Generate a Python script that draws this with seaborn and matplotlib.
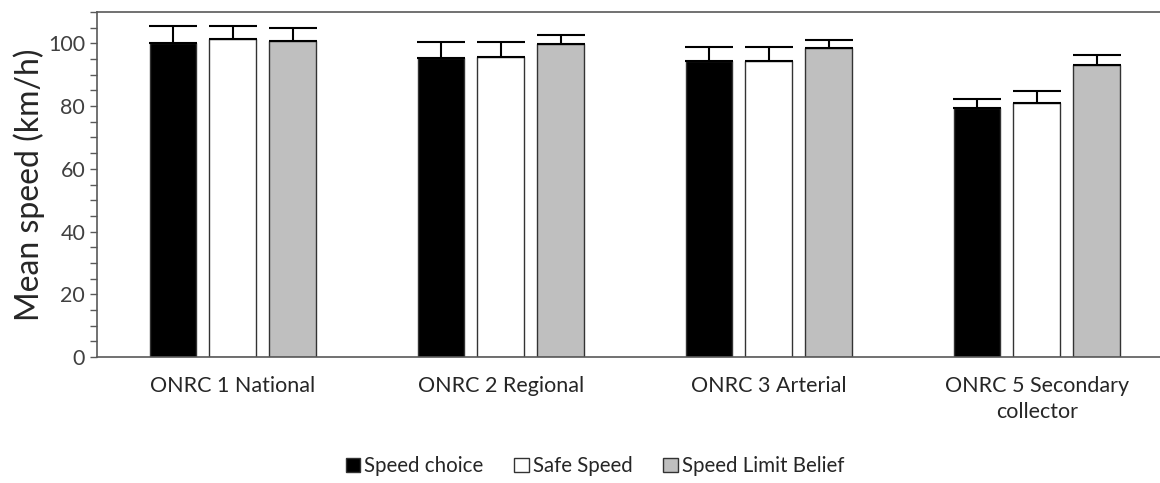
import matplotlib
matplotlib.use("Agg")
import matplotlib.pyplot as plt
import matplotlib.patches as mpatches
import seaborn as sns
import pandas as pd
import numpy as np
from matplotlib.ticker import MultipleLocator

categories = ["ONRC 1 National", "ONRC 2 Regional", "ONRC 3 Arterial", "ONRC 5 Secondary\ncollector"]
series = ["Speed choice", "Safe Speed", "Speed Limit Belief"]
speed_choice = [100.0, 95.3, 94.5, 79.4]
safe_speed = [101.3, 95.6, 94.5, 80.9]
limit_belief = [100.8, 99.7, 98.4, 93.1]
err_choice = [5.5, 5.3, 4.4, 3.0]
err_safe = [4.2, 5.0, 4.4, 4.0]
err_belief = [4.1, 2.9, 2.8, 3.3]

values = [speed_choice, safe_speed, limit_belief]
errors = [err_choice, err_safe, err_belief]
colors = ["#000000", "#ffffff", "#bfbfbf"]

rows = []
for s, vals in zip(series, values):
    for c, v in zip(categories, vals):
        rows.append({"cat": c, "series": s, "value": v})
df = pd.DataFrame(rows)

sns.set_style("white")
plt.rcParams['font.family'] = ['Lato', 'DejaVu Sans']

fig = plt.figure(figsize=(11.6, 4.83), dpi=100)
ax = fig.add_axes([0.0836, 0.261, 0.9164, 0.714])

sns.barplot(data=df, x="cat", y="value", hue="series", order=categories,
            hue_order=series, palette=colors, width=0.67, gap=0.22,
            edgecolor="#333333", linewidth=1.0, errorbar=None, ax=ax)

bar_containers = list(ax.containers)
for cont, errs in zip(bar_containers, errors):
    xs = [p.get_x() + p.get_width() / 2 for p in cont.patches]
    hs = [p.get_height() for p in cont.patches]
    ax.errorbar(xs, hs, yerr=[np.zeros(len(errs)), errs], fmt="none",
                ecolor="black", elinewidth=1.5, capsize=17, capthick=1.5, zorder=1)

ax.set_ylim(0, 110)
ax.set_xlim(-0.507, 3.46)
ax.yaxis.set_major_locator(MultipleLocator(20))
ax.yaxis.set_minor_locator(MultipleLocator(5))
ax.tick_params(axis="y", which="both", direction="out", length=5, width=1,
               color="#595959", left=True, labelsize=15.5, labelcolor="#404040")
ax.tick_params(axis="x", length=0, labelsize=15.5, labelcolor="#262626", pad=14)
for lbl in ax.get_xticklabels():
    lbl.set_linespacing(1.35)
ax.set_xlabel("")
ax.set_ylabel("Mean speed (km/h)", fontsize=23, color="#262626", labelpad=2)
for side in ["left", "bottom", "top"]:
    ax.spines[side].set_color("#595959")
    ax.spines[side].set_linewidth(1.2)
ax.spines["right"].set_visible(False)

leg = ax.get_legend()
if leg is not None:
    leg.remove()
hs = [mpatches.Patch(facecolor=col, edgecolor="#333333", linewidth=1.0) for col in colors]
fig.legend(hs, series, loc="center", bbox_to_anchor=(0.513, 0.035), ncol=3,
           frameon=False, handlelength=0.7, handleheight=0.7, handletextpad=0.2,
           columnspacing=1.5, fontsize=14.8, labelcolor="#262626")

fig.savefig("out.png", dpi=100)
